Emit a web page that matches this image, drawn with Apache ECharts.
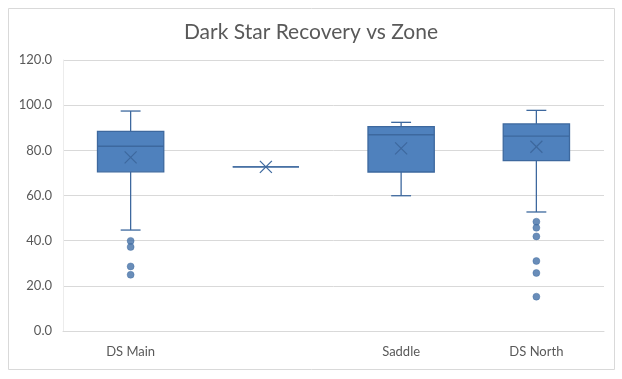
<!DOCTYPE html>
<html><head><meta charset="utf-8">
<script src="https://cdn.jsdelivr.net/npm/echarts@6/dist/echarts.min.js"></script>
<style>html,body{margin:0;padding:0;background:#fff}#c{width:622px;height:379px}</style>
</head><body><div id="c"></div>
<script>
const categories = ['DS Main', '', 'Saddle', 'DS North'];
const whiskerMin = [44.7, 72.7, 59.9, 52.7];
const q1 = [70.5, 72.7, 70.4, 75.4];
const median = [81.8, 72.7, 86.9, 86.3];
const q3 = [88.4, 72.7, 90.5, 91.7];
const whiskerMax = [97.4, 72.7, 92.4, 97.7];
const means = [76.9, 72.7, 80.9, 81.6];
const outliersDSMain = [39.9, 37.2, 28.6, 24.9];
const outliersDSNorth = [48.4, 45.7, 41.9, 31.0, 25.7, 15.2];
const yTicks = [0, 20, 40, 60, 80, 100, 120];

const FONT = 'Lato, "Open Sans", sans-serif';
const FILL = '#4f81bd', STROKE = '#3d689e';

const boxData = categories.map((c, i) => [i, whiskerMin[i], q1[i], median[i], q3[i], whiskerMax[i], means[i]]);
const outlierData = [];
outliersDSMain.forEach(v => outlierData.push([0, v]));
outliersDSNorth.forEach(v => outlierData.push([3, v]));

function renderBox(params, api) {
  const x = api.value(0);
  const pMin = api.coord([x, api.value(1)]);
  const pQ1 = api.coord([x, api.value(2)]);
  const pMed = api.coord([x, api.value(3)]);
  const pQ3 = api.coord([x, api.value(4)]);
  const pMax = api.coord([x, api.value(5)]);
  const pMean = api.coord([x, api.value(6)]);
  const band = api.size([1, 0])[0];
  const bw = band * 0.49;
  const cap = bw * 0.3;
  const cx = pMed[0];
  const ls = { stroke: STROKE, lineWidth: 1.3 };
  const children = [];
  children.push({ type: 'line', shape: { x1: cx, y1: pMax[1], x2: cx, y2: pQ3[1] }, style: ls });
  children.push({ type: 'line', shape: { x1: cx, y1: pQ1[1], x2: cx, y2: pMin[1] }, style: ls });
  if (pMax[1] !== pQ3[1]) children.push({ type: 'line', shape: { x1: cx - cap / 2, y1: pMax[1], x2: cx + cap / 2, y2: pMax[1] }, style: ls });
  if (pMin[1] !== pQ1[1]) children.push({ type: 'line', shape: { x1: cx - cap / 2, y1: pMin[1], x2: cx + cap / 2, y2: pMin[1] }, style: ls });
  children.push({ type: 'rect', shape: { x: cx - bw / 2, y: pQ3[1], width: bw, height: pQ1[1] - pQ3[1] }, style: { fill: FILL, stroke: STROKE, lineWidth: 1.3 } });
  children.push({ type: 'line', shape: { x1: cx - bw / 2, y1: pMed[1], x2: cx + bw / 2, y2: pMed[1] }, style: ls });
  const m = 6;
  children.push({ type: 'line', shape: { x1: pMean[0] - m, y1: pMean[1] - m, x2: pMean[0] + m, y2: pMean[1] + m }, style: { stroke: STROKE, lineWidth: 1.2 } });
  children.push({ type: 'line', shape: { x1: pMean[0] - m, y1: pMean[1] + m, x2: pMean[0] + m, y2: pMean[1] - m }, style: { stroke: STROKE, lineWidth: 1.2 } });
  return { type: 'group', children };
}

const chart = echarts.init(document.getElementById('c'), null, { renderer: 'canvas' });
chart.setOption({
  backgroundColor: '#fff',
  animation: false,
  title: {
    text: 'Dark Star Recovery vs Zone', left: 'center', top: 17,
    textStyle: { fontFamily: FONT, fontSize: 21, fontWeight: 'normal', color: '#595959' }
  },
  graphic: [{ type: 'rect', shape: { x: 8.5, y: 8.5, width: 606, height: 361 }, style: { fill: 'none', stroke: '#d9d9d9', lineWidth: 1 }, silent: true }],
  grid: { left: 63, right: 18, top: 60, bottom: 48 },
  xAxis: {
    type: 'category', data: categories, boundaryGap: true,
    axisLine: { show: true, lineStyle: { color: '#d9d9d9' } },
    axisTick: { show: false },
    axisLabel: { fontFamily: FONT, fontSize: 13, color: '#595959', margin: 14 },
    splitLine: { show: false }
  },
  yAxis: {
    type: 'value', min: 0, max: 120, interval: 20,
    axisLine: { show: true, lineStyle: { color: '#ececec' } },
    axisTick: { show: false },
    axisLabel: { fontFamily: FONT, fontSize: 13, color: '#595959', margin: 11, formatter: v => v.toFixed(1) },
    splitLine: { lineStyle: { color: '#d9d9d9' } }
  },
  series: [
    { type: 'custom', renderItem: renderBox, data: boxData, encode: { x: 0, y: [1, 5] }, z: 3 },
    { type: 'scatter', data: outlierData, symbol: 'circle', symbolSize: 7, itemStyle: { color: '#4470a8', borderColor: '#3d689e', borderWidth: 0.5 }, z: 4 }
  ]
});
</script>
</body></html>
